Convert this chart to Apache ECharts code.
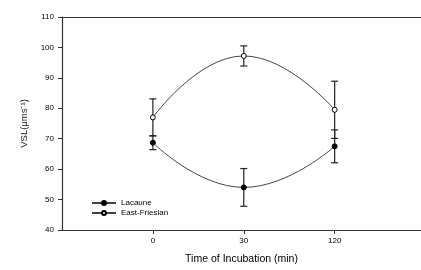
<!DOCTYPE html>
<html>
<head>
<meta charset="utf-8">
<script src="https://cdn.jsdelivr.net/npm/echarts@6/dist/echarts.min.js"></script>
<style>
  html, body { margin: 0; padding: 0; background: #fff; }
  #chart { width: 421px; height: 270px; }
</style>
</head>
<body>
<div id="chart"></div>
<script>
// 数据
let timeLabels = ['0', '30', '120'];
let lacauneMean = [68.7, 54.0, 67.5];
let lacauneErr = [2.3, 6.2, 5.4];
let eastMean = [77.0, 97.2, 79.5];
let eastErr = [6.1, 3.3, 9.4];
let yTicks = [40, 50, 60, 70, 80, 90, 100, 110];

let font = 'Liberation Sans';

function points(mean) {
    return mean.map((v, i) => [i, v]);
}
function bars(mean, err) {
    return mean.map((v, i) => [i, v - err[i], v + err[i]]);
}

// 误差线
function errorBar(params, api) {
    let x = api.value(0);
    let lo = api.coord([x, api.value(1)]);
    let hi = api.coord([x, api.value(2)]);
    let w = 3.5;
    let style = { stroke: '#222', lineWidth: 1.2 };
    return {
        type: 'group',
        children: [
            { type: 'line', shape: { x1: lo[0], y1: lo[1], x2: hi[0], y2: hi[1] }, style: style },
            { type: 'line', shape: { x1: lo[0] - w, y1: lo[1], x2: lo[0] + w, y2: lo[1] }, style: style },
            { type: 'line', shape: { x1: hi[0] - w, y1: hi[1], x2: hi[0] + w, y2: hi[1] }, style: style }
        ]
    };
}

let chart = echarts.init(document.getElementById('chart'));
let option = {
    animation: false,
    grid: { left: 62, right: 0, top: 17, bottom: 35 },
    legend: {
        left: 86, top: 194, orient: 'vertical', itemGap: 2,
        itemWidth: 24, itemHeight: 5,
        textStyle: { fontFamily: font, fontSize: 8, color: '#000' },
        data: ['Lacaune', 'East-Friesian']
    },
    xAxis: [{
        type: 'value', min: -1, max: 2.95, interval: 1,
        name: 'Time of Incubation (min)', nameLocation: 'middle', nameGap: 24,
        nameTextStyle: { fontFamily: font, fontSize: 10.5, color: '#000' },
        axisLine: { onZero: false, lineStyle: { color: '#333', width: 1.2 } },
        axisTick: { customValues: [0, 1, 2], length: 4, lineStyle: { color: '#333' } },
        axisLabel: {
            customValues: [0, 1, 2], margin: 7,
            fontFamily: font, fontSize: 8, color: '#000',
            formatter: v => timeLabels[v]
        },
        splitLine: { show: false }
    }, {
        type: 'value', min: -1, max: 2.95, position: 'top',
        axisLine: { show: true, onZero: false, lineStyle: { color: '#333', width: 1.2 } },
        axisTick: { show: false }, axisLabel: { show: false }, splitLine: { show: false }
    }],
    yAxis: {
        type: 'value', min: yTicks[0], max: yTicks[yTicks.length - 1], interval: 10,
        name: 'VSL(μms⁻¹)', nameLocation: 'middle', nameGap: 32,
        nameTextStyle: { fontFamily: font, fontSize: 9.5, color: '#222' },
        axisLine: { show: true, onZero: false, lineStyle: { color: '#333', width: 1.2 } },
        axisTick: { show: true, length: 4, lineStyle: { color: '#333' } },
        axisLabel: { fontFamily: font, fontSize: 8, color: '#000', margin: 8 },
        splitLine: { show: false }
    },
    series: [{
        name: 'Lacaune', type: 'line', smooth: 0.5, data: points(lacauneMean),
        symbol: 'circle', symbolSize: 5,
        lineStyle: { color: '#444', width: 1 },
        itemStyle: { color: '#000', borderColor: '#000', borderWidth: 1 },
        z: 3
    }, {
        name: 'East-Friesian', type: 'line', smooth: 0.5, data: points(eastMean),
        symbol: 'circle', symbolSize: 5,
        lineStyle: { color: '#444', width: 1 },
        itemStyle: { color: '#fff', borderColor: '#000', borderWidth: 1 },
        z: 3
    }, {
        type: 'custom', renderItem: errorBar, data: bars(lacauneMean, lacauneErr), z: 2
    }, {
        type: 'custom', renderItem: errorBar, data: bars(eastMean, eastErr), z: 2
    }]
};
chart.setOption(option);
</script>
</body>
</html>
